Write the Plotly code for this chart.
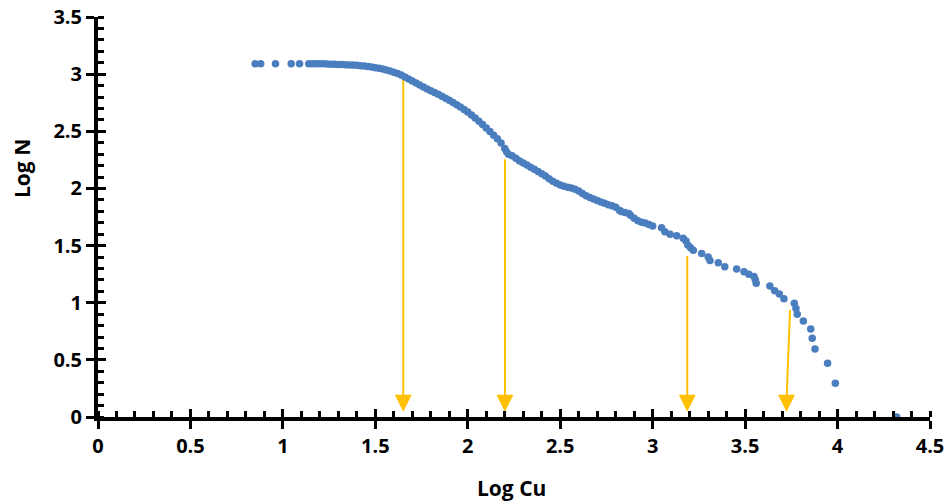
import plotly.graph_objects as go

# ---- data ----
log_cu = [0.85, 0.88, 0.96, 1.045, 1.09,
          1.14, 1.16, 1.18, 1.20, 1.22, 1.24, 1.26, 1.28, 1.30, 1.32, 1.34, 1.36, 1.38, 1.40,
          1.42, 1.44, 1.46, 1.48, 1.50, 1.52, 1.54, 1.56, 1.58, 1.60, 1.62, 1.64, 1.66, 1.68,
          1.70, 1.72, 1.74, 1.76, 1.78, 1.80, 1.82, 1.84, 1.86, 1.88, 1.90, 1.92, 1.94, 1.96,
          1.98, 2.00, 2.02, 2.04, 2.06, 2.08, 2.10, 2.12, 2.14, 2.16, 2.18, 2.20, 2.21, 2.22,
          2.24, 2.26, 2.28, 2.30, 2.32, 2.34, 2.36, 2.38, 2.40, 2.42, 2.44, 2.46, 2.48, 2.50,
          2.52, 2.54, 2.56, 2.58, 2.60, 2.62, 2.64, 2.66, 2.68, 2.70, 2.72, 2.74, 2.76, 2.78,
          2.80, 2.82, 2.83, 2.85, 2.87, 2.88, 2.90, 2.92, 2.94, 2.96, 2.98, 3.00,
          3.048, 3.066, 3.094, 3.13, 3.165, 3.18, 3.19, 3.205, 3.22, 3.265, 3.30, 3.31, 3.355,
          3.39, 3.454, 3.494, 3.52, 3.548, 3.555, 3.56, 3.634, 3.66, 3.685, 3.71, 3.766, 3.775,
          3.782, 3.815, 3.855, 3.863, 3.878, 3.946, 3.988, 4.32]
log_n = [3.09, 3.09, 3.09, 3.09, 3.09,
         3.09, 3.09, 3.09, 3.09, 3.09, 3.088, 3.087, 3.086, 3.085, 3.084, 3.083, 3.081, 3.079, 3.077,
         3.074, 3.071, 3.067, 3.062, 3.057, 3.051, 3.044, 3.036, 3.027, 3.017, 3.005, 2.992, 2.976, 2.958,
         2.940, 2.922, 2.905, 2.888, 2.871, 2.855, 2.839, 2.823, 2.806, 2.789, 2.771, 2.752, 2.732, 2.712,
         2.690, 2.668, 2.643, 2.616, 2.588, 2.559, 2.529, 2.498, 2.466, 2.434, 2.398, 2.350, 2.320, 2.300,
         2.285, 2.265, 2.240, 2.222, 2.205, 2.186, 2.168, 2.148, 2.128, 2.108, 2.085, 2.063, 2.045, 2.030,
         2.018, 2.010, 2.003, 1.993, 1.978, 1.955, 1.935, 1.920, 1.907, 1.895, 1.882, 1.870, 1.858, 1.848,
         1.835, 1.810, 1.798, 1.790, 1.780, 1.765, 1.738, 1.718, 1.705, 1.697, 1.685, 1.672,
         1.655, 1.62, 1.60, 1.586, 1.563, 1.54, 1.505, 1.48, 1.46, 1.43, 1.40, 1.37, 1.35,
         1.315, 1.295, 1.27, 1.25, 1.23, 1.20, 1.17, 1.146, 1.105, 1.076, 1.035, 0.995, 0.95,
         0.90, 0.84, 0.77, 0.69, 0.595, 0.47, 0.295, 0.0]

# arrows: top of shaft (x, y) and tip (x, y)
arrow_top_x = [1.651, 2.201, 3.187, 3.743]
arrow_top_y = [2.954, 2.255, 1.409, 0.936]
arrow_tip_x = [1.651, 2.201, 3.187, 3.724]
arrow_tip_y = [0.046, 0.046, 0.046, 0.046]

x_ticks = [0, 0.5, 1, 1.5, 2, 2.5, 3, 3.5, 4, 4.5]
y_ticks = [0, 0.5, 1, 1.5, 2, 2.5, 3, 3.5]

BLUE = "#4A7EBF"
GOLD = "#FFC000"
FONT = "Open Sans"

fig = go.Figure()

# arrow shafts
for xt, yt, xb, yb in zip(arrow_top_x, arrow_top_y, arrow_tip_x, arrow_tip_y):
    fig.add_trace(go.Scatter(x=[xt, xb], y=[yt, yb + 0.1], mode="lines",
                             line=dict(color=GOLD, width=2), hoverinfo="skip",
                             showlegend=False, cliponaxis=False))
# arrow heads
fig.add_trace(go.Scatter(x=arrow_tip_x, y=arrow_tip_y, mode="markers",
                         marker=dict(symbol="arrow-down", size=17, color=GOLD,
                                     line=dict(width=0)),
                         hoverinfo="skip", showlegend=False, cliponaxis=False))

# data points
fig.add_trace(go.Scatter(x=log_cu, y=log_n, mode="markers",
                         marker=dict(color=BLUE, size=7.5, line=dict(width=0)),
                         showlegend=False, cliponaxis=False))

tickfont = dict(family=FONT, size=20, color="black", weight="bold")

fig.update_layout(
    width=944, height=504,
    margin=dict(l=98, r=14, t=17, b=87, autoexpand=False),
    paper_bgcolor="white", plot_bgcolor="white",
    xaxis=dict(range=[0, 4.5], tickvals=x_ticks, ticktext=[f"{v:g}" for v in x_ticks],
               automargin=False, ticklabeloverflow="allow",
               showgrid=False, zeroline=False, showline=True, linecolor="black", linewidth=4,
               ticks="outside", ticklen=8, tickwidth=3, tickcolor="black", tickfont=tickfont,
               minor=dict(ticks="inside", dtick=0.1, tick0=0, ticklen=6, tickwidth=3,
                          tickcolor="black", showgrid=False)),
    yaxis=dict(range=[0, 3.5], tickvals=y_ticks, ticktext=[f"{v:g}" for v in y_ticks],
               automargin=False, ticklabeloverflow="allow",
               showgrid=False, zeroline=False, showline=True, linecolor="black", linewidth=4,
               ticks="outside", ticklen=8, tickwidth=3, tickcolor="black", tickfont=tickfont,
               minor=dict(ticks="inside", dtick=0.1, tick0=0, ticklen=6, tickwidth=3,
                          tickcolor="black", showgrid=False)),
    xaxis2=dict(range=[0, 4.5], overlaying="x", anchor="y", side="bottom", automargin=False,
                tickvals=x_ticks, showticklabels=False, showgrid=False, zeroline=False,
                showline=False, ticks="inside", ticklen=8, tickwidth=3, tickcolor="black"),
    yaxis2=dict(range=[0, 3.5], overlaying="y", anchor="x", side="left", automargin=False,
                tickvals=y_ticks, showticklabels=False, showgrid=False, zeroline=False,
                showline=False, ticks="inside", ticklen=8, tickwidth=3, tickcolor="black"),
    annotations=[
        dict(text="Log Cu", xref="x", yref="paper", x=2.234, y=-0.1775,
             showarrow=False, xanchor="center", yanchor="middle",
             font=dict(family=FONT, size=21, color="black", weight="bold")),
        dict(text="Log N", xref="paper", yref="y", x=-0.0913, y=2.17,
             showarrow=False, xanchor="center", yanchor="middle", textangle=-90,
             font=dict(family=FONT, size=21, color="black", weight="bold")),
    ],
)

# dummy trace to activate overlay axes
fig.add_trace(go.Scatter(x=[None], y=[None], xaxis="x2", yaxis="y2",
                         showlegend=False, hoverinfo="skip"))

fig.write_html("out.html", config={"displayModeBar": False},
               post_script="document.body.style.margin='0';document.body.style.overflow='hidden';")
